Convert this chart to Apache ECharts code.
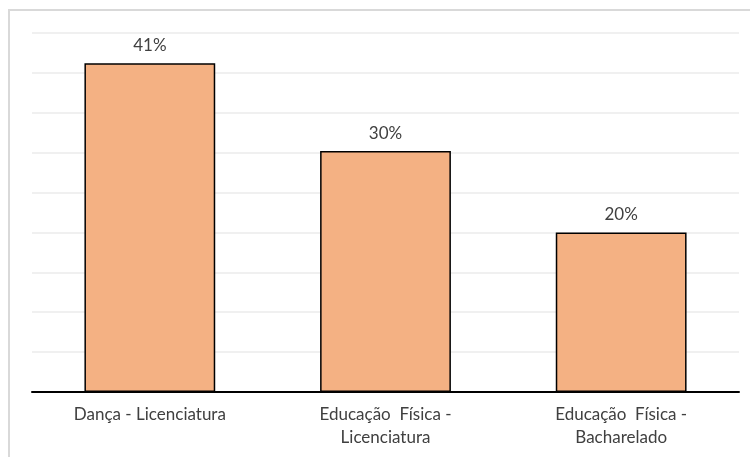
<!DOCTYPE html>
<html>
<head>
<meta charset="utf-8">
<script src="https://cdn.jsdelivr.net/npm/echarts@6/dist/echarts.min.js"></script>
<style>
html,body{margin:0;padding:0;background:#fff;}
#chart{width:750px;height:457px;}
</style>
</head>
<body>
<div id="chart"></div>
<script>
const categories = ["Dança - Licenciatura", "Educação  Física -\nLicenciatura", "Educação  Física -\nBacharelado"];
const values = [41.2, 30.2, 20.0];
const yTicks = { min: 0, max: 45, interval: 5 };

const chart = echarts.init(document.getElementById('chart'), null, { renderer: 'canvas' });
chart.setOption({
  animation: false,
  backgroundColor: '#ffffff',
  graphic: [{
    type: 'rect',
    shape: { x: 9, y: 10, width: 800, height: 500 },
    style: { fill: 'none', stroke: '#d9d9d9', lineWidth: 2 },
    silent: true,
    z: -1
  }],
  grid: { left: 32, right: 11, top: 33, bottom: 65, containLabel: false },
  xAxis: {
    type: 'category',
    data: categories,
    axisLine: { show: true, lineStyle: { color: '#000000', width: 2 } },
    axisTick: { show: false },
    axisLabel: {
      interval: 0,
      margin: 11,
      color: '#404040',
      fontFamily: 'Lato',
      fontSize: 17,
      lineHeight: 23
    }
  },
  yAxis: {
    type: 'value',
    min: yTicks.min,
    max: yTicks.max,
    interval: yTicks.interval,
    axisLine: { show: false },
    axisTick: { show: false },
    axisLabel: { show: false },
    splitLine: { show: true, lineStyle: { color: '#ebebeb', width: 1.5 } }
  },
  series: [{
    type: 'bar',
    data: values,
    barWidth: '55.5%',
    itemStyle: { color: '#F4B183', borderColor: '#000000', borderWidth: 1.5 },
    label: {
      show: true,
      position: 'top',
      distance: 9,
      formatter: function (p) { return Math.round(p.value) + '%'; },
      color: '#404040',
      fontFamily: 'Lato',
      fontSize: 17
    }
  }]
});
</script>
</body>
</html>
